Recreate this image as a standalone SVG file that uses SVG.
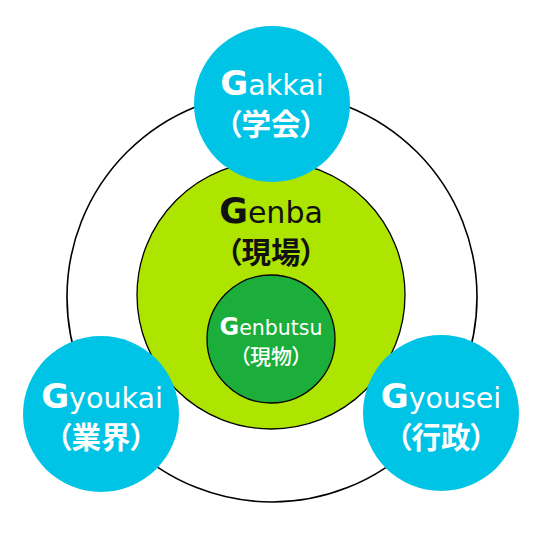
<svg xmlns="http://www.w3.org/2000/svg" width="540" height="540" viewBox="0 0 540 540">
<style>
.ring{fill:none;stroke:#000;stroke-width:1.6}
.blue{fill:#00C4E6}
.lat{font-family:"DejaVu Sans","Liberation Sans",sans-serif;text-anchor:middle}
.g{font-weight:bold}
.cjk{font-family:"Noto Sans CJK JP","Noto Sans CJK SC",sans-serif;text-anchor:middle;font-feature-settings:"palt";font-weight:bold}
.w{fill:#fff}
.k{fill:#111}
</style>
<rect width="540" height="540" fill="#fff"/>
<g id="connectors">
<circle id="outer-ring" class="ring" cx="272" cy="297" r="205"/>
</g>
<g id="genba">
<circle cx="271" cy="295" r="134" fill="#ADE400" stroke="#000" stroke-width="1.3"/>
<text class="lat k" x="271" y="223" font-size="30"><tspan class="g" font-size="35">G</tspan>enba</text>
<text class="cjk k" x="271" y="263" font-size="29.5">（現場）</text>
</g>
<g id="genbutsu">
<circle cx="271" cy="339" r="64" fill="#1BAE3A" stroke="#000" stroke-width="1.3"/>
<text class="lat w" x="271" y="335" font-size="20.5"><tspan class="g" font-size="24">G</tspan>enbutsu</text>
<text class="cjk w" x="271" y="364" font-size="21" style="font-weight:500">（現物）</text>
</g>
<g id="gakkai">
<circle class="blue" cx="272" cy="104" r="78"/>
<text class="lat w" x="272" y="95" font-size="28.5"><tspan class="g" font-size="34">G</tspan>akkai</text>
<text class="cjk w" x="271" y="135" font-size="29.5">（学会）</text>
</g>
<g id="gyoukai">
<circle class="blue" cx="101" cy="414" r="78"/>
<text class="lat w" x="102" y="408" font-size="28.5"><tspan class="g" font-size="34">G</tspan>youkai</text>
<text class="cjk w" x="101" y="448" font-size="29.5">（業界）</text>
</g>
<g id="gyousei">
<circle class="blue" cx="441" cy="413" r="78"/>
<text class="lat w" x="441" y="408" font-size="28.5"><tspan class="g" font-size="34">G</tspan>yousei</text>
<text class="cjk w" x="441" y="448" font-size="29.5">（行政）</text>
</g>
</svg>
